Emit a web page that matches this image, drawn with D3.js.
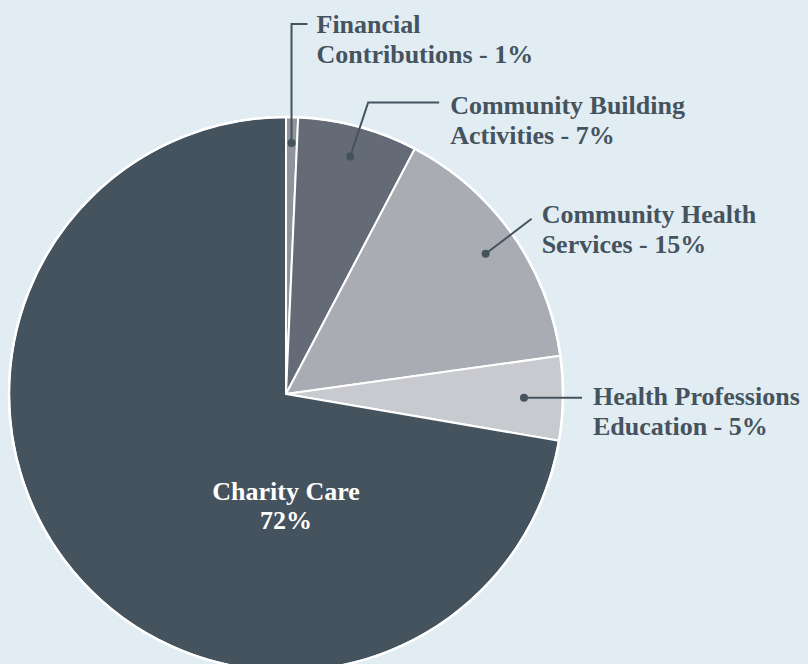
<!DOCTYPE html>
<html>
<head>
<meta charset="utf-8">
<script src="https://cdn.jsdelivr.net/npm/d3@7"></script>
<style>
  html, body { margin: 0; padding: 0; background: #e2ecf3; }
  svg { display: block; }
  text { font-family: "Liberation Serif", "Times New Roman", serif; font-weight: bold; }
</style>
</head>
<body>
<div id="vis"></div>
<script>
// slices, clockwise from 12 o'clock
const categories = [
  "Financial Contributions",
  "Community Building Activities",
  "Community Health Services",
  "Health Professions Education",
  "Charity Care"
];
const shares = [0.7, 7.0, 15.1, 4.9, 72.3];
const shareLabels = ["1%", "7%", "15%", "5%", "72%"];
const labelLines = [
  ["Financial", "Contributions - 1%"],
  ["Community Building", "Activities - 7%"],
  ["Community Health", "Services - 15%"],
  ["Health Professions", "Education - 5%"],
  ["Charity Care", "72%"]
];
const colors = ["#8e939c", "#646b76", "#a9acb3", "#c9cacf", "#45535e"];

const W = 808, H = 664;
const cx = 286, cy = 394, R = 277;
const ink = "#45535e";
const fontSize = 26;
const lineGap = 30;

// leader layout per slice: dot radius, elbow (bend right, up), horizontal run,
// gap before text, baseline offset
const leaders = [
  { r: 251, bend: 0, up: 119, run: 16, gap: 9, ty: 9 },
  { r: 246, bend: 18, up: 54, run: 71, gap: 11, ty: 11 },
  { r: 244, bend: 46, up: 35, run: 0, gap: 10, ty: 4 },
  { r: 238, bend: 0, up: 0, run: 58, gap: 11, ty: 7 },
  null
];

const svg = d3.select("#vis").append("svg")
  .attr("width", W)
  .attr("height", H);

const pie = d3.pie().sort(null).value(d => d)(shares);
const arc = d3.arc().innerRadius(0).outerRadius(R);

const g = svg.append("g").attr("transform", `translate(${cx},${cy})`);

g.selectAll("path.slice")
  .data(pie)
  .enter()
  .append("path")
    .attr("class", "slice")
    .attr("d", arc)
    .attr("fill", (d, i) => colors[i])
    .attr("stroke", "#fff")
    .attr("stroke-width", 2)
    .attr("stroke-linejoin", "round");

g.append("circle")
  .attr("r", R)
  .attr("fill", "none")
  .attr("stroke", "#fff")
  .attr("stroke-width", 2.5);

// leaders and outside labels
pie.forEach((d, i) => {
  const L = leaders[i];
  if (!L) return;
  const [px, py] = d3.arc().innerRadius(L.r).outerRadius(L.r).centroid(d);
  const ex = px + L.bend;
  const ey = py - L.up;
  const pts = [[px, py], [ex, ey], [ex + L.run, ey]];
  g.append("path")
    .attr("d", d3.line()(pts))
    .attr("fill", "none")
    .attr("stroke", ink)
    .attr("stroke-width", 2);
  g.append("circle")
    .attr("cx", px).attr("cy", py).attr("r", 4)
    .attr("fill", ink);
  const tx = ex + L.run + L.gap;
  const t = g.append("text")
    .attr("x", tx)
    .attr("y", ey + L.ty)
    .attr("fill", ink)
    .style("font-size", fontSize + "px");
  labelLines[i].forEach((s, j) => {
    t.append("tspan")
      .attr("x", tx)
      .attr("dy", j === 0 ? 0 : lineGap)
      .text(s);
  });
});

// inside label for the big slice
const big = g.append("text")
  .attr("x", 0)
  .attr("y", 106)
  .attr("text-anchor", "middle")
  .attr("fill", "#fff")
  .style("font-size", fontSize + "px");
labelLines[4].forEach((s, j) => {
  big.append("tspan")
    .attr("x", 0)
    .attr("dy", j === 0 ? 0 : 29)
    .text(s);
});
</script>
</body>
</html>
